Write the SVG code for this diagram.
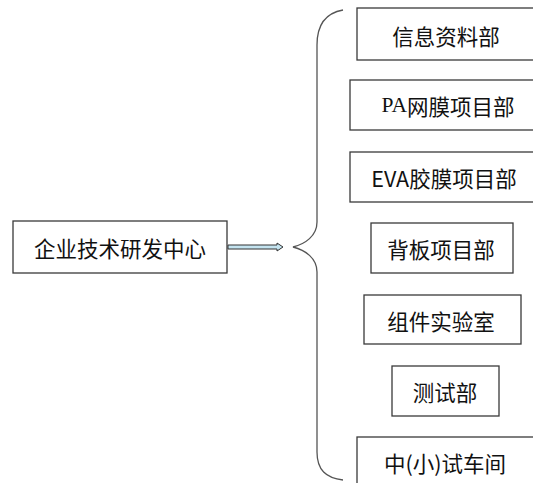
<svg xmlns="http://www.w3.org/2000/svg" width="533" height="483" viewBox="0 0 533 483">
<style>
.box{fill:#fff;stroke:#3a3a3a;stroke-width:1.3}
.t{font-family:"Noto Sans CJK SC","Liberation Sans",sans-serif;font-size:21.5px;fill:#111;text-anchor:middle;dominant-baseline:central}
.s{font-family:"Liberation Serif","Noto Sans CJK SC",serif}
</style>
<rect width="533" height="483" fill="#fff"/>
<g id="connectors">
<path d="M228,245 L277,245 L277,243 L283,247 L277,251 L277,249 L228,249 Z" fill="#c4e4f0" stroke="#333" stroke-width="1"/>
<path d="M343,10 C326,13 317,25 317,45 L317,222 C317,236 305,244 293,247 C305,250 317,258 317,272 L317,452 C317,470 326,478 343,480" fill="none" stroke="#555" stroke-width="1.3"/>
</g>
<g id="n0"><rect class="box" x="13" y="221" width="214" height="52"/><text class="t" x="120" y="247">企业技术研发中心</text></g>
<g id="n1"><rect class="box" x="357" y="8" width="190" height="52"/><text class="t" x="446" y="35">信息资料部</text></g>
<g id="n2"><rect class="box" x="350" y="80" width="190" height="50"/><text class="t" x="448" y="105"><tspan class="s">PA</tspan>网膜项目部</text></g>
<g id="n3"><rect class="box" x="350" y="152" width="190" height="50"/><text class="t" x="444" y="177">EVA胶膜项目部</text></g>
<g id="n4"><rect class="box" x="371" y="223" width="142" height="50"/><text class="t" x="441" y="248">背板项目部</text></g>
<g id="n5"><rect class="box" x="364" y="295" width="157" height="49"/><text class="t" x="441" y="320">组件实验室</text></g>
<g id="n6"><rect class="box" x="392" y="366" width="107" height="50"/><text class="t" x="445" y="391">测试部</text></g>
<g id="n7"><rect class="box" x="357" y="437" width="190" height="60"/><text class="t" x="445" y="462">中(小)试车间</text></g>
</svg>
